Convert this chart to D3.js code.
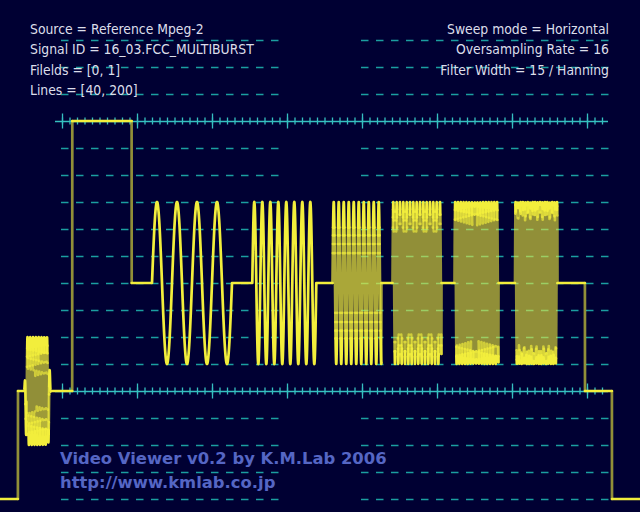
<!DOCTYPE html>
<html><head><meta charset="utf-8">
<script src="https://cdn.jsdelivr.net/npm/d3@7"></script>
<style>
html,body{margin:0;padding:0;background:#000033;overflow:hidden}
svg{display:block}
</style>
</head><body><div id="chart"></div>
<script>
// ---------- data ----------
// Line waveform: piecewise levels, time in microseconds, level in IRE
const levelTimes = [0, 1.8, 7.23, 13.17, 58.5, 61.2, 64];
const levelIRE   = [-40, 0, 100, 40, 0, -40];
// Bursts: colour burst + six multiburst packets
const burstName  = ["color", "0.5 MHz", "1.25 MHz", "2.0 MHz", "3.0 MHz", "3.58 MHz", "4.1 MHz"];
const burstStart = [2.4, 15.2, 25.23, 33.25, 39.25, 45.45, 51.5];
const burstEnd   = [5.1, 23.2, 31.63, 38.15, 44.15, 49.85, 55.75];
const burstFreq  = [3.58, 0.5, 1.25, 2.0, 3.0, 3.58, 4.1];   // MHz
const burstAmp   = [20, 30, 30, 30, 30, 30, 30];             // IRE (peak)
const burstRise  = [0.3, 0, 0, 0, 0, 0, 0];                  // µs envelope rise
// Graticule
const dashedIRE  = [130, 120, 110, 90, 80, 70, 60, 50, 40, 30, 20, 10, -10, -20, -30, -40];
const solidIRE   = [100, 0];
const majorTicks = [6.2, 13.7, 21.2, 28.7, 36.2, 43.7, 51.2, 58.7];
const minorTicks = d3.range(6.2, 60.8, 0.75);
const dashSpans  = [[6.1, 28.6], [36.1, 60.85]];
const rulerSpan  = [5.5, 60.8];
// Texts
const infoLeft  = ["Source = Reference Mpeg-2", "Signal ID = 16_03.FCC_MULTIBURST", "Filelds = [0, 1]", "Lines = [40, 200]"];
const infoRight = ["Sweep mode = Horizontal", "Oversampling Rate = 16", "Filter Width = 15 / Hanning"];
const credits   = ["Video Viewer v0.2 by K.M.Lab 2006", "http://www.kmlab.co.jp"];

// ---------- scales ----------
const W = 640, H = 512;
const x = d3.scaleLinear().domain([0, 64]).range([0, 640]);
const y = d3.scaleLinear().domain([-40, 130]).range([499, 40]);

const svg = d3.select("#chart").append("svg").attr("width", W).attr("height", H);
svg.append("rect").attr("width", W).attr("height", H).attr("fill", "#000033");

const FONT = "'DejaVu Sans Condensed', 'DejaVu Sans', 'Open Sans', sans-serif";
const FONT_B = "'DejaVu Sans', Verdana, sans-serif";

// dashed graticule
const gDash = svg.append("g");
dashedIRE.forEach(v => {
  dashSpans.forEach(sp => {
    gDash.append("line")
      .attr("x1", x(sp[0])).attr("x2", x(sp[1]))
      .attr("y1", Math.round(y(v)) + 0.5).attr("y2", Math.round(y(v)) + 0.5)
      .attr("stroke", "#1b9ea0").attr("stroke-width", 1.7)
      .attr("stroke-dasharray", "7.5 7.5");
  });
});

// solid rulers with ticks (using d3 axes)
solidIRE.forEach(v => {
  const yy = Math.round(y(v));
  const g = svg.append("g").attr("color", "#35c0c0");
  g.append("line").attr("x1", x(rulerSpan[0])).attr("x2", x(rulerSpan[1]))
    .attr("y1", yy + 0.5).attr("y2", yy + 0.5).attr("stroke", "#35c0c0").attr("stroke-width", 1.4);
  const mk = (axisFn, vals, size) => g.append("g").attr("transform", `translate(0,${yy})`)
    .call(axisFn(x).tickValues(vals).tickSize(size).tickFormat(""))
    .call(a => a.select(".domain").remove())
    .call(a => a.selectAll("line").attr("stroke-width", 1.3));
  mk(d3.axisTop, minorTicks, 3.5);
  mk(d3.axisBottom, minorTicks, 3.5);
  mk(d3.axisTop, majorTicks, 7.5);
  mk(d3.axisBottom, majorTicks, 7.5);
});

// info texts
svg.append("g").selectAll("text").data(infoLeft).join("text")
  .attr("x", 30).attr("y", (d, i) => 34 + i * 20.3)
  .attr("font-family", FONT).attr("font-size", 13.8).attr("fill", "#dcdeea").text(d => d);
svg.append("g").selectAll("text").data(infoRight).join("text")
  .attr("x", 609).attr("y", (d, i) => 34 + i * 20.3).attr("text-anchor", "end")
  .attr("font-family", FONT).attr("font-size", 13.8).attr("fill", "#dcdeea").text(d => d);
svg.append("g").selectAll("text").data(credits).join("text")
  .attr("x", 60).attr("y", (d, i) => 464 + i * 24.3)
  .attr("font-family", FONT_B).attr("font-weight", "bold").attr("font-size", 16.4)
  .attr("fill", "#5566c4").text(d => d);

// ---------- waveform ----------
function levelAt(t) {
  for (let i = 0; i < levelIRE.length; i++) if (t < levelTimes[i + 1]) return levelIRE[i];
  return levelIRE[levelIRE.length - 1];
}
function signal(t) {
  let v = levelAt(t);
  for (let b = 0; b < burstStart.length; b++) {
    const s = burstStart[b], e = burstEnd[b];
    if (t >= s && t < e) {
      let env = 1;
      const r = burstRise[b];
      if (r > 0) {
        const a = Math.min(t - s, e - t);
        if (a < r) env = 0.5 - 0.5 * Math.cos(Math.PI * a / r);
      }
      v += burstAmp[b] * env * Math.sin(2 * Math.PI * burstFreq[b] * (t - s));
    }
  }
  return v;
}
const dt = 0.01;
const ts = d3.range(0, 64 + dt / 2, dt);
const px = ts.map(t => x(t));
const py = ts.map(t => y(signal(t)));

const buckets = new Map();
let prevKey = null;
for (let i = 0; i < ts.length - 1; i++) {
  const dx = px[i + 1] - px[i], dy = Math.abs(py[i + 1] - py[i]);
  const s = dy / dx;
  const op = s <= 0 ? 1 : Math.max(0.62, Math.min(1, 70 / s));
  const key = Math.round(op * 20) / 20;
  let str = buckets.get(key) || "";
  if (key !== prevKey) str += "M" + px[i].toFixed(2) + "," + py[i].toFixed(2);
  str += "L" + px[i + 1].toFixed(2) + "," + py[i + 1].toFixed(2);
  buckets.set(key, str);
  prevKey = key;
}
const gTrace = svg.append("g");
[...buckets.keys()].sort((a, b) => a - b).forEach(k => {
  gTrace.append("path").attr("d", buckets.get(k))
    .attr("fill", "none").attr("stroke", "#f2ee3c").attr("stroke-opacity", k)
    .attr("stroke-width", 2.7).attr("stroke-linejoin", "round").attr("stroke-linecap", "round");
});
</script>
</body></html>
